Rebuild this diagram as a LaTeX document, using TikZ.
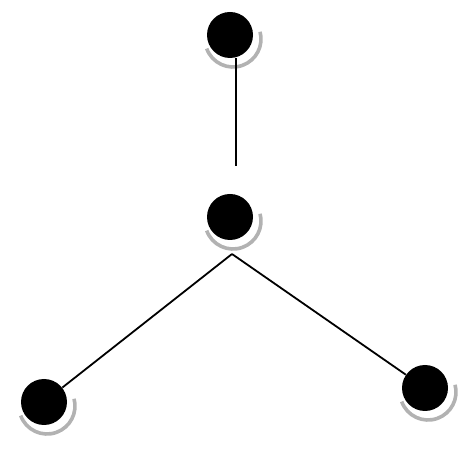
\documentclass[tikz,border=0pt]{standalone}
\begin{document}
\begin{tikzpicture}[x=0.5pt, y=-0.5pt,
    vertex/.style={circle, fill=black, inner sep=0pt, minimum size=23pt},
    halo/.style={black!30, line width=1.8pt}]
    \useasboundingbox (0,0) rectangle (461,454);

    % Vertices
    \node[vertex] (top) at (230, 35) {};
    \node[vertex] (mid) at (230, 217) {};
    \node[vertex] (left) at (44, 402) {};
    \node[vertex] (right) at (425, 388) {};

    % Shadows
    \foreach \n in {top, mid, left, right}
        \draw[halo] (\n.center) ++(3, 4) ++(200:14pt) arc[start angle=200, end angle=375, radius=14pt];

    % Edges
    \coordinate (fork) at (232, 254);
    \draw[line width=0.9pt, shorten >=14pt] ([xshift=3pt]top.south) -- ([xshift=3pt]mid.north);
    \draw[line width=0.9pt] (fork) -- (left);
    \draw[line width=0.9pt] (fork) -- (right);
\end{tikzpicture}
\end{document}
